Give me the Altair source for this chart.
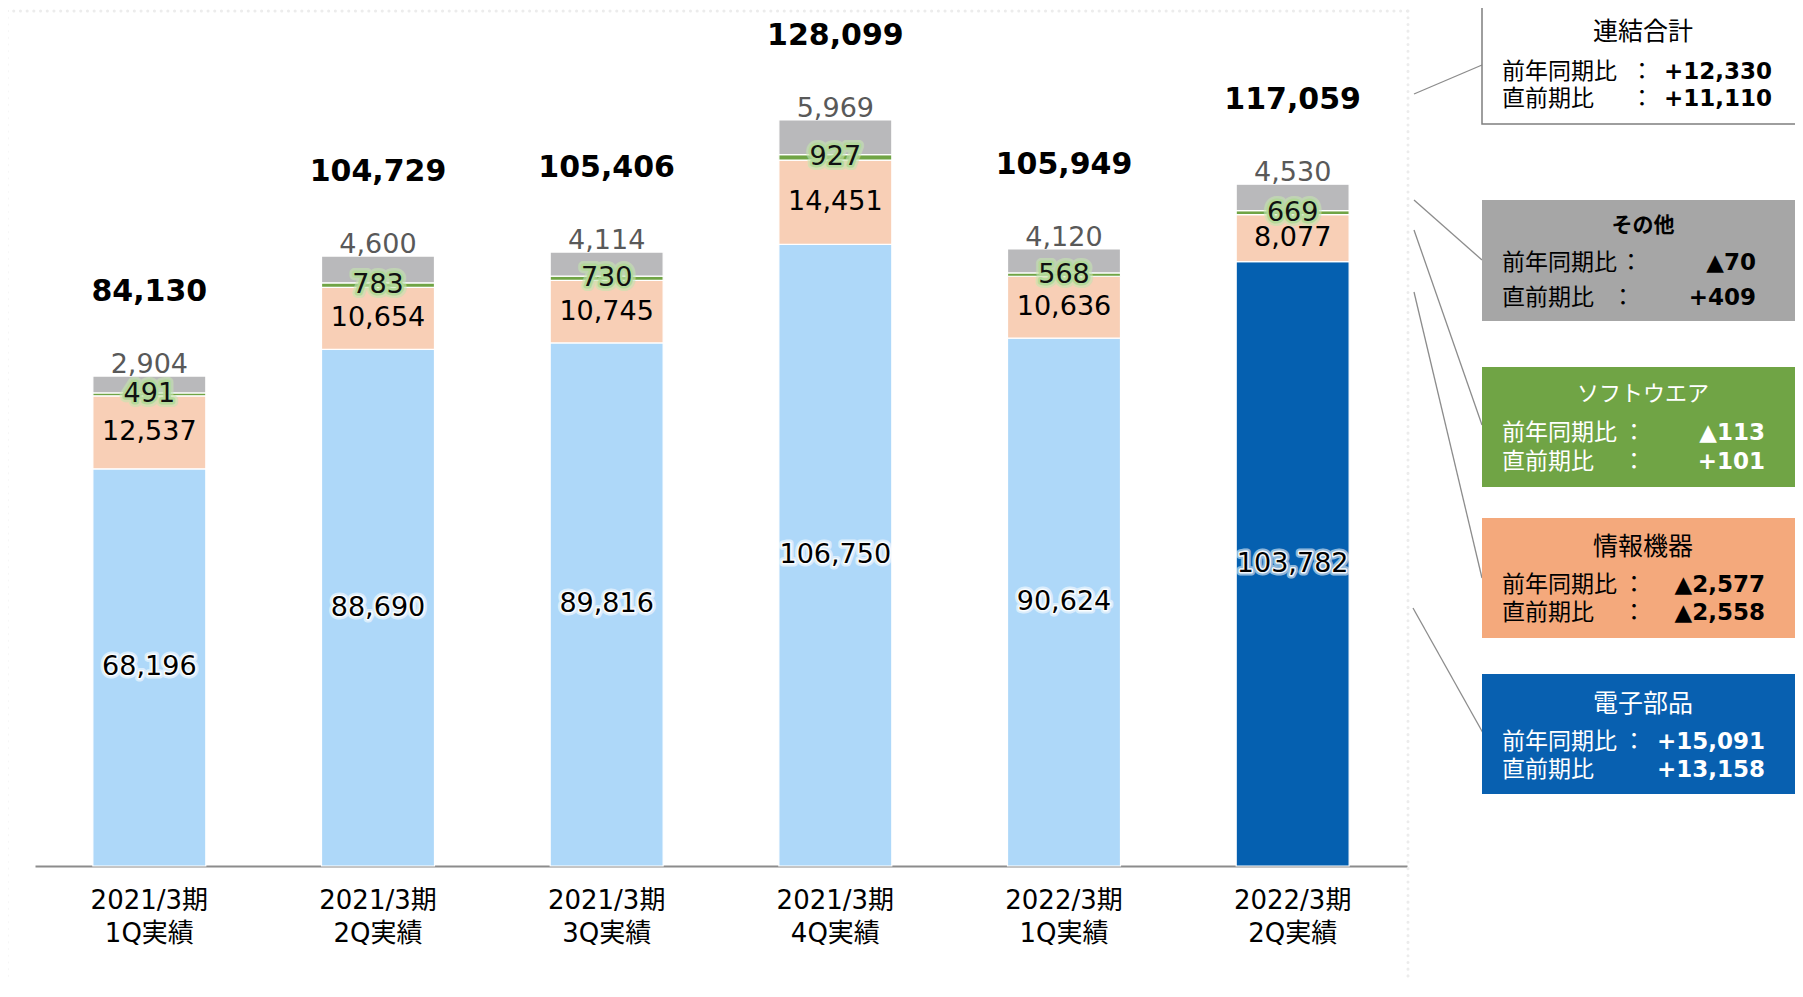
import altair as alt
import pandas as pd

# ---------------- data ----------------
periods = ["2021/3期|1Q実績", "2021/3期|2Q実績", "2021/3期|3Q実績",
           "2021/3期|4Q実績", "2022/3期|1Q実績", "2022/3期|2Q実績"]
electronic = [68196, 88690, 89816, 106750, 90624, 103782]
info_equip = [12537, 10654, 10745, 14451, 10636, 8077]
software = [491, 783, 730, 927, 568, 669]
other = [2904, 4600, 4114, 5969, 4120, 4530]
totals = [84130, 104729, 105406, 128099, 105949, 117059]

seg_names = ["電子部品", "情報機器", "ソフトウエア", "その他"]
box_titles = ["連結合計", "その他", "ソフトウエア", "情報機器", "電子部品"]
box_yoy = ["+12,330", "▲70", "▲113", "▲2,577", "+15,091"]
box_qoq = ["+11,110", "+409", "+101", "▲2,558", "+13,158"]
row_labels = ["前年同期比", "直前期比"]

# ---------------- tables ----------------
rows = []
for i, p in enumerate(periods):
    cum = 0
    for k, (name, vals) in enumerate(zip(seg_names, [electronic, info_equip, software, other])):
        v = vals[i]
        key = name
        if name == "電子部品" and i == len(periods) - 1:
            key = "電子部品(当期)"
        rows.append(dict(period=p, seg=name, key=key, value=v, ord=k,
                         mid=cum + v / 2, top=cum + v))
        cum += v
df = pd.DataFrame(rows)
tot_df = pd.DataFrame(dict(period=periods, total=totals,
                           top=[df[df.period == p].value.sum() for p in periods]))

DIG = "DejaVu Sans"
JP = "Noto Sans CJK JP"
MIX = "DejaVu Sans, Noto Sans CJK JP"
OX, OY = 8, 8

xscale = alt.Scale(range=[27, 1399], paddingInner=0.506, paddingOuter=0.253)
yscale = alt.Scale(domain=[0, 147320], nice=False, zero=True)
xaxis = alt.Axis(title=None, labelExpr="split(datum.label, '|')", labelFontSize=26,
                 labelFont=MIX, labelColor="#000000", labelPadding=21,
                 labelLineHeight=33, ticks=False, domainColor="#8C8C8C",
                 domainWidth=2, labelAngle=0, labelBaseline="top", grid=False)
X = alt.X("period:N", sort=periods, scale=xscale, axis=xaxis)

color = alt.Color("key:N", legend=None, scale=alt.Scale(
    domain=["電子部品", "電子部品(当期)", "情報機器", "ソフトウエア", "その他"],
    range=["#AED8F9", "#0560B0", "#F8CFB6", "#70A445", "#B9B9BB"]))

bars = alt.Chart(df).mark_bar(stroke="white", strokeWidth=1.2).encode(
    x=X,
    y=alt.Y("value:Q", stack="zero", scale=yscale, axis=None),
    color=color,
    order=alt.Order("ord:Q"),
)

def seg_text(name, **kw):
    return alt.Chart(df[df.seg == name]).mark_text(font=DIG, fontSize=27, **kw).encode(
        x=X, y=alt.Y("mid:Q", scale=yscale, axis=None),
        text=alt.Text("value:Q", format=","))

layers = [bars]
# electronics labels with white glow
layers.append(seg_text("電子部品", color="white", stroke="white", strokeWidth=7,
                       strokeJoin="round", opacity=0.55))
layers.append(seg_text("電子部品", color="white", stroke="white", strokeWidth=3,
                       strokeJoin="round", opacity=0.9))
layers.append(seg_text("電子部品", color="#000000"))
layers.append(seg_text("情報機器", color="#000000"))
# software labels with green glow
layers.append(seg_text("ソフトウエア", color="#C6E5B1", stroke="#C6E5B1", strokeWidth=10,
                       strokeJoin="round", opacity=0.6))
layers.append(seg_text("ソフトウエア", color="#B2DA98", stroke="#B2DA98", strokeWidth=5,
                       strokeJoin="round", opacity=0.9))
layers.append(seg_text("ソフトウエア", color="#111111"))
# other labels above the bar
layers.append(alt.Chart(df[df.seg == "その他"]).mark_text(
    font=DIG, fontSize=27, color="#595959", baseline="alphabetic", dy=-3).encode(
    x=X, y=alt.Y("top:Q", scale=yscale, axis=None),
    text=alt.Text("value:Q", format=",")))
# totals
layers.append(alt.Chart(tot_df).mark_text(
    font=DIG, fontSize=30, fontWeight="bold", color="#000000", baseline="middle", dy=-84).encode(
    x=X, y=alt.Y("top:Q", scale=yscale, axis=None),
    text=alt.Text("total:Q", format=",")))

one = pd.DataFrame({"_": [0]})

def rect(x1, y1, x2, y2, fill, stroke=None):
    kw = dict(fill=fill)
    if stroke:
        kw.update(stroke=stroke, strokeWidth=1.5)
    return alt.Chart(one).mark_rect(**kw).encode(
        x=alt.value(x1 - OX), x2=alt.value(x2 - OX),
        y=alt.value(y1 - OY), y2=alt.value(y2 - OY))

def rule(x1, y1, x2, y2, color="#8C8C8C", width=1.3, dash=None):
    kw = dict(color=color, strokeWidth=width)
    if dash:
        kw.update(strokeDash=dash, strokeCap="round")
    return alt.Chart(one).mark_rule(**kw).encode(
        x=alt.value(x1 - OX), x2=alt.value(x2 - OX),
        y=alt.value(y1 - OY), y2=alt.value(y2 - OY))

def txt(s, x, y, size, color="#000000", bold=False, font=JP, align="left"):
    kw = dict(fontSize=size, color=color, font=font, align=align, baseline="middle")
    if bold:
        kw["fontWeight"] = "bold"
    return alt.Chart(one).mark_text(**kw).encode(
        x=alt.value(x - OX), y=alt.value(y - OY), text=alt.value(s))

# dotted plot-area border
layers.append(rule(7, 11, 1408, 11, color="#ECECEC", width=3, dash=[0.1, 6.6]))
layers.append(rule(7, 11, 7, 990, color="#ECECEC", width=3, dash=[0.1, 6.6]))
layers.append(rule(1408, 11, 1408, 990, color="#ECECEC", width=3, dash=[0.1, 6.6]))

# leader lines
for (a, b, c, d) in [(1414, 94, 1482, 65), (1414, 200, 1482, 260), (1414, 230, 1482, 425),
                     (1414, 292, 1482, 578), (1413, 608, 1483, 733)]:
    layers.append(rule(a, b, c, d))

# annotation boxes
box_top = [3, 200, 367, 518, 674]
box_bot = [124, 321, 487, 638, 794]
box_fill = ["#FFFFFF", "#A6A6A6", "#70A445", "#F4A97C", "#0860B0"]
box_txt = ["#000000", "#000000", "#FFFFFF", "#000000", "#FFFFFF"]
title_y = [32, 226, 394, 547, 704]
row_y = [(72, 99), (263, 298), (433, 462), (585, 613), (742, 770)]
title_size = [25, 21, 22, 25, 25]

for b in range(5):
    layers.append(rect(1482, box_top[b], 1800, box_bot[b], box_fill[b],
                       stroke="#7F7F7F" if b == 0 else None))
    c = box_txt[b]
    layers.append(txt(box_titles[b], 1643, title_y[b], title_size[b], color=c,
                      bold=(b == 1), align="center"))
    y1, y2 = row_y[b]
    layers.append(txt(row_labels[0], 1502, y1, 23, color=c))
    layers.append(txt(row_labels[1], 1502, y2, 23, color=c))
    if b == 0:
        layers.append(txt("：", 1642, y1, 23, color=c, align="center"))
        layers.append(txt("：", 1642, y2, 23, color=c, align="center"))
        layers.append(txt(box_yoy[b], 1664, y1, 23, color=c, bold=True, font=DIG))
        layers.append(txt(box_qoq[b], 1664, y2, 23, color=c, bold=True, font=DIG))
    elif b == 4:
        layers.append(txt("：", 1634, y1, 23, color=c, align="center"))
        layers.append(txt(box_yoy[b], 1657, y1, 23, color=c, bold=True, font=DIG))
        layers.append(txt(box_qoq[b], 1657, y2, 23, color=c, bold=True, font=DIG))
    else:
        rx = 1756 if b == 1 else 1765
        c1 = 1631 if b == 1 else 1634
        c2 = 1623 if b == 1 else 1634
        layers.append(txt("：", c1, y1, 23, color=c, align="center"))
        layers.append(txt("：", c2, y2, 23, color=c, align="center"))
        layers.append(txt(box_yoy[b], rx, y1, 23, color=c, bold=True, font=DIG, align="right"))
        layers.append(txt(box_qoq[b], rx, y2, 23, color=c, bold=True, font=DIG, align="right"))

chart = alt.layer(*layers).properties(
    width=1787, height=858,
    padding={"left": 0, "top": 0, "right": 0, "bottom": 115},
    autosize=alt.AutoSizeParams(type="none"),
).configure_view(stroke=None)

chart.save("out.html", embed_options={"renderer": "svg", "actions": False})
